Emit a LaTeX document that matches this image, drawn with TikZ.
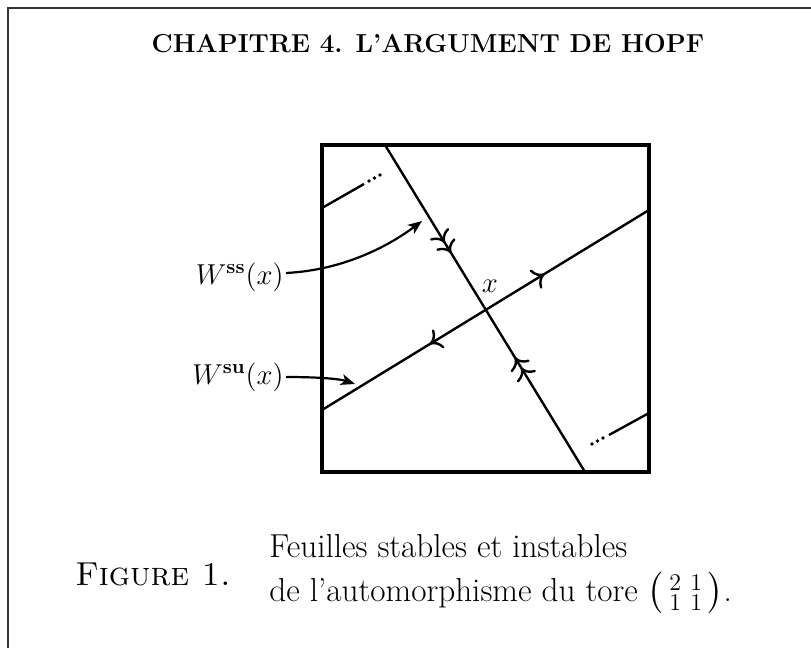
\documentclass[tikz,border=0pt]{standalone}
\usepackage{amsmath}
\usetikzlibrary{arrows.meta,decorations.markings,positioning}
\tikzset{
  barb/.tip={Computer Modern Rightarrow[length=5.5pt,width=11pt]},
  pointer/.style={-{Stealth[length=7pt,width=5.5pt,inset=1.8pt]}, line width=1.1pt},
  leaf/.style={line width=1.2pt},
  stable/.style={leaf, postaction={decorate}, decoration={markings,
      mark=at position 0.33 with {\arrow{barb[sep=0.5pt] barb}},
      mark=at position 0.65 with {\arrowreversed{barb[sep=0.5pt] barb}}}},
  unstable/.style={leaf, postaction={decorate}, decoration={markings,
      mark=at position 0.68 with {\arrow{barb}},
      mark=at position 0.33 with {\arrowreversed{barb}}}},
  label/.style={inner sep=1pt, font=\fontsize{14.5}{17}\selectfont}
}
\begin{document}
\begin{tikzpicture}[x=0.5pt, y=-0.5pt]
  \useasboundingbox (0,0) rectangle (811,648);
  % 1. cadre de la page
  \draw[line width=1pt, black!80] (811,8) -- (8,8) -- (8,648);

  % 2. en-tete
  \node[inner sep=0pt, font=\fontsize{13}{15}\selectfont\bfseries] (titre) at (428,44) {CHAPITRE 4. L'ARGUMENT DE HOPF};

  % 3. le tore
  \draw[line width=2pt] (322,145) rectangle (649,472);

  % 4. feuilles stable et instable
  \coordinate (sH) at (385,145);
  \coordinate (sB) at (585,472);
  \coordinate (uG) at (322,410);
  \coordinate (uD) at (649,210);
  \draw[stable] (sH) -- (sB);
  \draw[unstable] (uG) -- (uD);
  \node[label] (x) at (490,286) {$x$};

  % 5. morceaux recolles
  \coordinate (hG) at (322,208);
  \coordinate (hF) at (364,184);
  \coordinate (bD) at (649,413);
  \coordinate (bF) at (609,435);
  \draw[leaf] (hG) -- (hF);
  \draw[leaf] (bD) -- (bF);
  \fill (369,181) circle (1.8) (374.5,178) circle (1.8) (380,175) circle (1.8);
  \fill (603,438) circle (1.8) (597.5,441) circle (1.8) (592,444) circle (1.8);

  % 6. etiquettes
  \node[label, anchor=east] (Wss) at (286,277) {$W^{\mathbf{ss}}(x)$};
  \node[label, anchor=east] (Wsu) at (286,377) {$W^{\mathbf{su}}(x)$};
  \coordinate (pss) at (422,221);
  \coordinate (psu) at (355,384);
  \draw[pointer] ([yshift=2pt]Wss.east) .. controls (345,270) and (390,245) .. (pss);
  \draw[pointer] (Wsu.east) .. controls (320,377) and (340,379) .. (psu);

  % 7. legende
  \node[inner sep=1pt, anchor=west, align=left, font=\fontsize{16.6}{22}\selectfont] (legende) at (267,574)
    {Feuilles stables et instables\\
     de l'automorphisme du tore $\bigl(\begin{smallmatrix}2&1\\1&1\end{smallmatrix}\bigr)$.};
  \node[inner sep=1pt, font=\fontsize{16.6}{22}\selectfont, left=17pt of legende] (fig) {\textsc{Figure 1.}};
\end{tikzpicture}
\end{document}
